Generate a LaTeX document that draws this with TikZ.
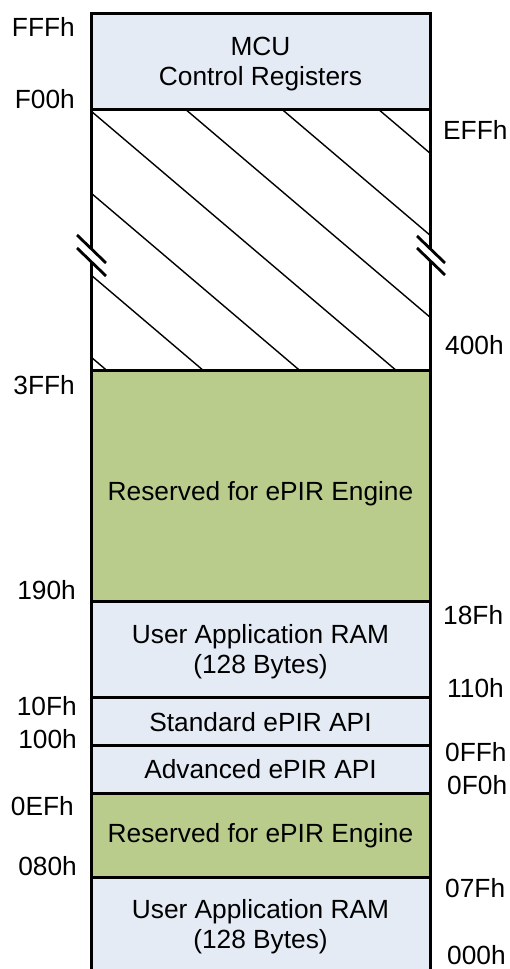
\documentclass[tikz,border=0pt]{standalone}
\usepackage{fontspec}
\setmainfont{Liberation Sans}
\definecolor{ltblue}{HTML}{E4EBF5}
\definecolor{olivefill}{HTML}{B9CC8C}
\begin{document}
\begin{tikzpicture}[x=1pt,y=-1pt,
  font=\fontsize{26.3}{30}\selectfont,
  region/.style={draw=black, line width=3pt, minimum width=339pt, inner sep=0pt, outer sep=0pt},
  bluebox/.style={region, fill=ltblue},
  greenbox/.style={region, fill=olivefill},
  boxtext/.style={align=center, inner sep=0pt},
  addrL/.style={anchor=east, inner sep=0pt},
  addrR/.style={anchor=west, inner sep=0pt},
  hatchline/.style={line width=1.4pt},
  breakline/.style={line width=2.8pt}]
\useasboundingbox (0,0) rectangle (509,969);
% regions
\node[bluebox, minimum height=96pt] (mcu) at (260.5,61) {};
\node[region, fill=white, minimum height=261pt] (gap) at (260.5,239.5) {};
\node[greenbox, minimum height=231pt] (res1) at (260.5,485.5) {};
\node[bluebox, minimum height=96pt] (ram1) at (260.5,649) {};
\node[bluebox, minimum height=48pt] (std) at (260.5,721) {};
\node[bluebox, minimum height=48pt] (adv) at (260.5,769) {};
\node[greenbox, minimum height=84pt] (res2) at (260.5,835) {};
\node[bluebox, minimum height=98pt] (ram2) at (260.5,926) {};
% hatching
\begin{scope}
  \clip (gap.north west) rectangle (gap.south east);
  \foreach \k in {-6,...,4} {
    \draw[hatchline] (-9,{111+82*\k-85}) -- (591,{111+82*\k+425});
  }
\end{scope}
\draw[line width=3pt] (gap.north west) -- (gap.south west);
\draw[line width=3pt] (gap.north east) -- (gap.south east);
% region texts
\node[boxtext] (mcuT) at ([yshift=-3pt]mcu.center) {MCU\\Control Registers};
\node[boxtext] (res1T) at ([yshift=-8pt]res1.center) {Reserved for ePIR Engine};
\node[boxtext] (ram1T) at ([yshift=-3pt]ram1.center) {User Application RAM\\(128 Bytes)};
\node[boxtext] (stdT) at ([yshift=-1pt]std.center) {Standard ePIR API};
\node[boxtext] (advT) at ([yshift=0pt]adv.center) {Advanced ePIR API};
\node[boxtext] (res2T) at ([yshift=-1pt]res2.center) {Reserved for ePIR Engine};
\node[boxtext] (ram2T) at ([yshift=-1pt]ram2.center) {User Application RAM\\(128 Bytes)};
% break marks
\coordinate (bl1a) at (77,235); \coordinate (bl1b) at (106,263);
\coordinate (bl2a) at (77,248); \coordinate (bl2b) at (106,276);
\coordinate (br1a) at (417,236); \coordinate (br1b) at (445,263);
\coordinate (br2a) at (417,248); \coordinate (br2b) at (445,275);
\fill[white] (bl1a) -- (bl1b) -- (bl2b) -- (bl2a) -- cycle;
\fill[white] (br1a) -- (br1b) -- (br2b) -- (br2a) -- cycle;
\draw[breakline] (bl1a) -- (bl1b);
\draw[breakline] (bl2a) -- (bl2b);
\draw[breakline] (br1a) -- (br1b);
\draw[breakline] (br2a) -- (br2b);
% left addresses
\node[addrL] (aFFF) at (75,27) {FFFh};
\node[addrL] (aF00) at (75,99) {F00h};
\node[addrL] (a3FF) at (75,385) {3FFh};
\node[addrL] (a190) at (76,590) {190h};
\node[addrL] (a10F) at (77,706) {10Fh};
\node[addrL] (a100) at (77,739) {100h};
\node[addrL] (a0EF) at (74,806) {0EFh};
\node[addrL] (a080) at (77,866) {080h};
% right addresses
\node[addrR] (aEFF) at (443,130) {EFFh};
\node[addrR] (a400) at (445,345) {400h};
\node[addrR] (a18F) at (443,615) {18Fh};
\node[addrR] (a110) at (447,688) {110h};
\node[addrR] (a0FF) at (445,752) {0FFh};
\node[addrR] (a0F0) at (447,785) {0F0h};
\node[addrR] (a07F) at (445,888) {07Fh};
\node[addrR] (a000) at (447,955) {000h};
\end{tikzpicture}
\end{document}
